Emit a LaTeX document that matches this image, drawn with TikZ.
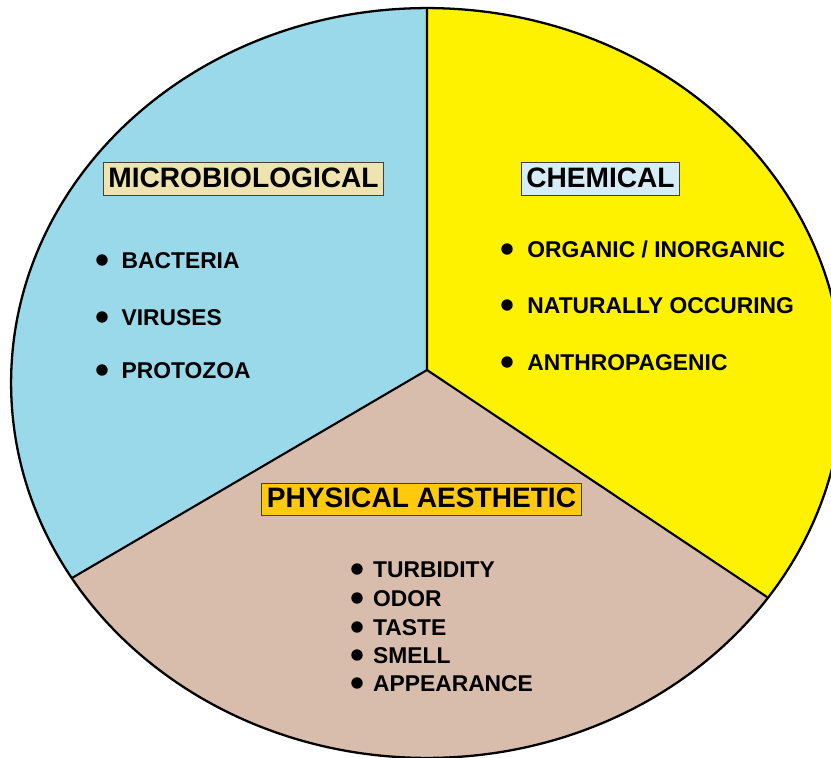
\documentclass[tikz,border=0pt]{standalone}
\usepackage{fontspec}
\setmainfont{Liberation Sans}
\usetikzlibrary{positioning,calc}

\definecolor{microfill}{RGB}{153,217,234}
\definecolor{chemfill}{RGB}{255,242,0}
\definecolor{physfill}{RGB}{217,189,172}
\definecolor{microhead}{RGB}{239,228,176}
\definecolor{chemhead}{RGB}{214,236,246}
\definecolor{physhead}{RGB}{255,201,14}

\begin{document}
\begin{tikzpicture}[x=0.02cm, y=-0.02cm,
    head/.style={draw=black!75, line width=0.6pt, font=\fontsize{16}{18}\selectfont\bfseries,
                 inner xsep=3pt, inner ysep=2.5pt, text height=11.5pt, text depth=2pt},
    dot/.style={circle, fill=black, inner sep=0pt, minimum size=6.5pt},
    item/.style={font=\fontsize{13}{15}\selectfont\bfseries, inner sep=0pt,
                 text height=9.3pt, text depth=0pt}]
  \clip (0,0) rectangle (831,757);
  \coordinate (hub) at (427,370);
  \coordinate (top) at (427,8);
  \coordinate (lft) at (72,578);
  \coordinate (rgt) at (767,597);

  % three sectors
  \begin{scope}
    \clip (427,383) ellipse [x radius=8.32cm, y radius=7.5cm];
    \fill[physfill] (-20,-20) rectangle (860,780);
    \fill[microfill] (hub) -- (top) -- (427,-20) -- (-20,-20) -- ($(hub)!1.5!(lft)$) -- cycle;
    \fill[chemfill] (hub) -- (top) -- (427,-20) -- (860,-20) -- ($(hub)!1.5!(rgt)$) -- cycle;
  \end{scope}
  \draw[line width=1.2pt] (hub) -- (top) (hub) -- (lft) (hub) -- (rgt);
  \draw[line width=1.3pt] (427,383) ellipse [x radius=8.32cm, y radius=7.5cm];

  % headings
  \node[head, fill=microhead] (micro) at (243.5,179) {MICROBIOLOGICAL};
  \node[head, fill=chemhead] (chem) at (600.5,179) {CHEMICAL};
  \node[head, fill=physhead] (phys) at (421.5,499.5) {PHYSICAL AESTHETIC};

  % bullet lists
  \foreach \y/\txt [count=\i] in {260/BACTERIA, 317/VIRUSES, 370/PROTOZOA} {
    \node[dot] (md\i) at (102,\y) {};
    \node[item, right=7.5pt of md\i] (mi\i) {\txt};
  }
  \foreach \y/\txt [count=\i] in {249/{ORGANIC / INORGANIC}, 305/{NATURALLY OCCURING}, 362/{ANTHROPAGENIC}} {
    \node[dot] (cd\i) at (507,\y) {};
    \node[item, right=8pt of cd\i] (ci\i) {\txt};
  }
  \foreach \y/\txt [count=\i] in {569/TURBIDITY, 598/ODOR, 627/TASTE, 655/SMELL, 683/APPEARANCE} {
    \node[dot] (pd\i) at (357,\y) {};
    \node[item, right=5.5pt of pd\i] (pi\i) {\txt};
  }
\end{tikzpicture}
\end{document}
